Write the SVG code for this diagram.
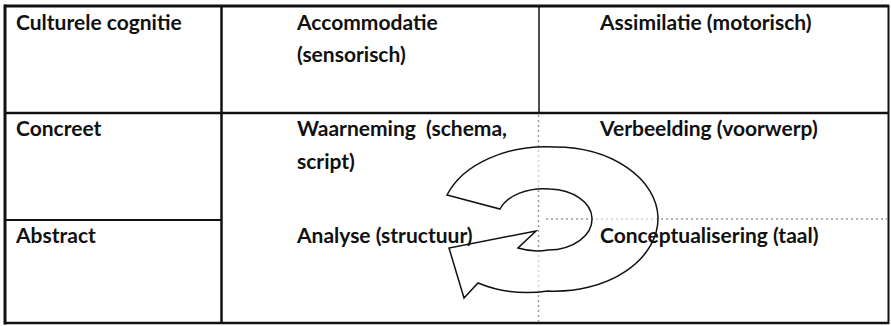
<svg xmlns="http://www.w3.org/2000/svg" width="891" height="326" viewBox="0 0 891 326">
<style>
.t{font-family:Lato,"Open Sans",sans-serif;font-weight:bold;font-size:21px;fill:#111}
.ln{stroke:#111;fill:none}
.dot{stroke:#9a9a9a;fill:none;stroke-width:1.5;stroke-dasharray:2 3}
</style>
<rect width="891" height="326" fill="#fff"/>
<g id="grid">
<line class="ln" x1="5" y1="6" x2="889" y2="6" stroke-width="3"/>
<line class="ln" x1="5" y1="4.5" x2="5" y2="324.5" stroke-width="3"/>
<line class="ln" x1="888.5" y1="5" x2="888.5" y2="324" stroke-width="2"/>
<line class="ln" x1="4" y1="323" x2="889" y2="323" stroke-width="2.5"/>
<line class="ln" x1="221.5" y1="6" x2="221.5" y2="323" stroke-width="2.5"/>
<line class="ln" x1="539" y1="6" x2="539" y2="113" stroke-width="1.5"/>
<line class="ln" x1="5" y1="113" x2="889" y2="113" stroke-width="2.5"/>
<line class="ln" x1="5" y1="220" x2="221.5" y2="220" stroke-width="2"/>
<line class="dot" x1="538.5" y1="115" x2="538.5" y2="322"/>
<line class="dot" x1="546" y1="219" x2="887" y2="219" stroke-dasharray="4 3" stroke-width="1"/>
</g>
<g id="cycle-arrow">
<path d="M447,195 A105,72 0 0 1 555,147 A103,72 0 0 1 658,217 A103,73 0 0 1 548,291 A100,72 0 0 1 478,283 L464,298 L449,248 L536,231 L518,248 A45,30 0 0 0 548,250 A44,31 0 0 0 592,218 A44,30 0 0 0 550,189 A46,30 0 0 0 500,209 Z" fill="#fff" fill-opacity="0.55" stroke="#111" stroke-width="1.5" stroke-linejoin="miter"/>
</g>
<g id="labels">
<text class="t" x="16" y="30">Culturele cognitie</text>
<text class="t" x="297" y="30">Accommodatie</text>
<text class="t" x="297" y="62">(sensorisch)</text>
<text class="t" x="600" y="30">Assimilatie (motorisch)</text>
<text class="t" x="16" y="136">Concreet</text>
<text class="t" x="297" y="136" xml:space="preserve">Waarneming  (schema,</text>
<text class="t" x="297" y="169">script)</text>
<text class="t" x="600" y="136">Verbeelding (voorwerp)</text>
<text class="t" x="16" y="243">Abstract</text>
<text class="t" x="297" y="243">Analyse (structuur)</text>
<text class="t" x="600" y="243">Conceptualisering (taal)</text>
</g>
</svg>
